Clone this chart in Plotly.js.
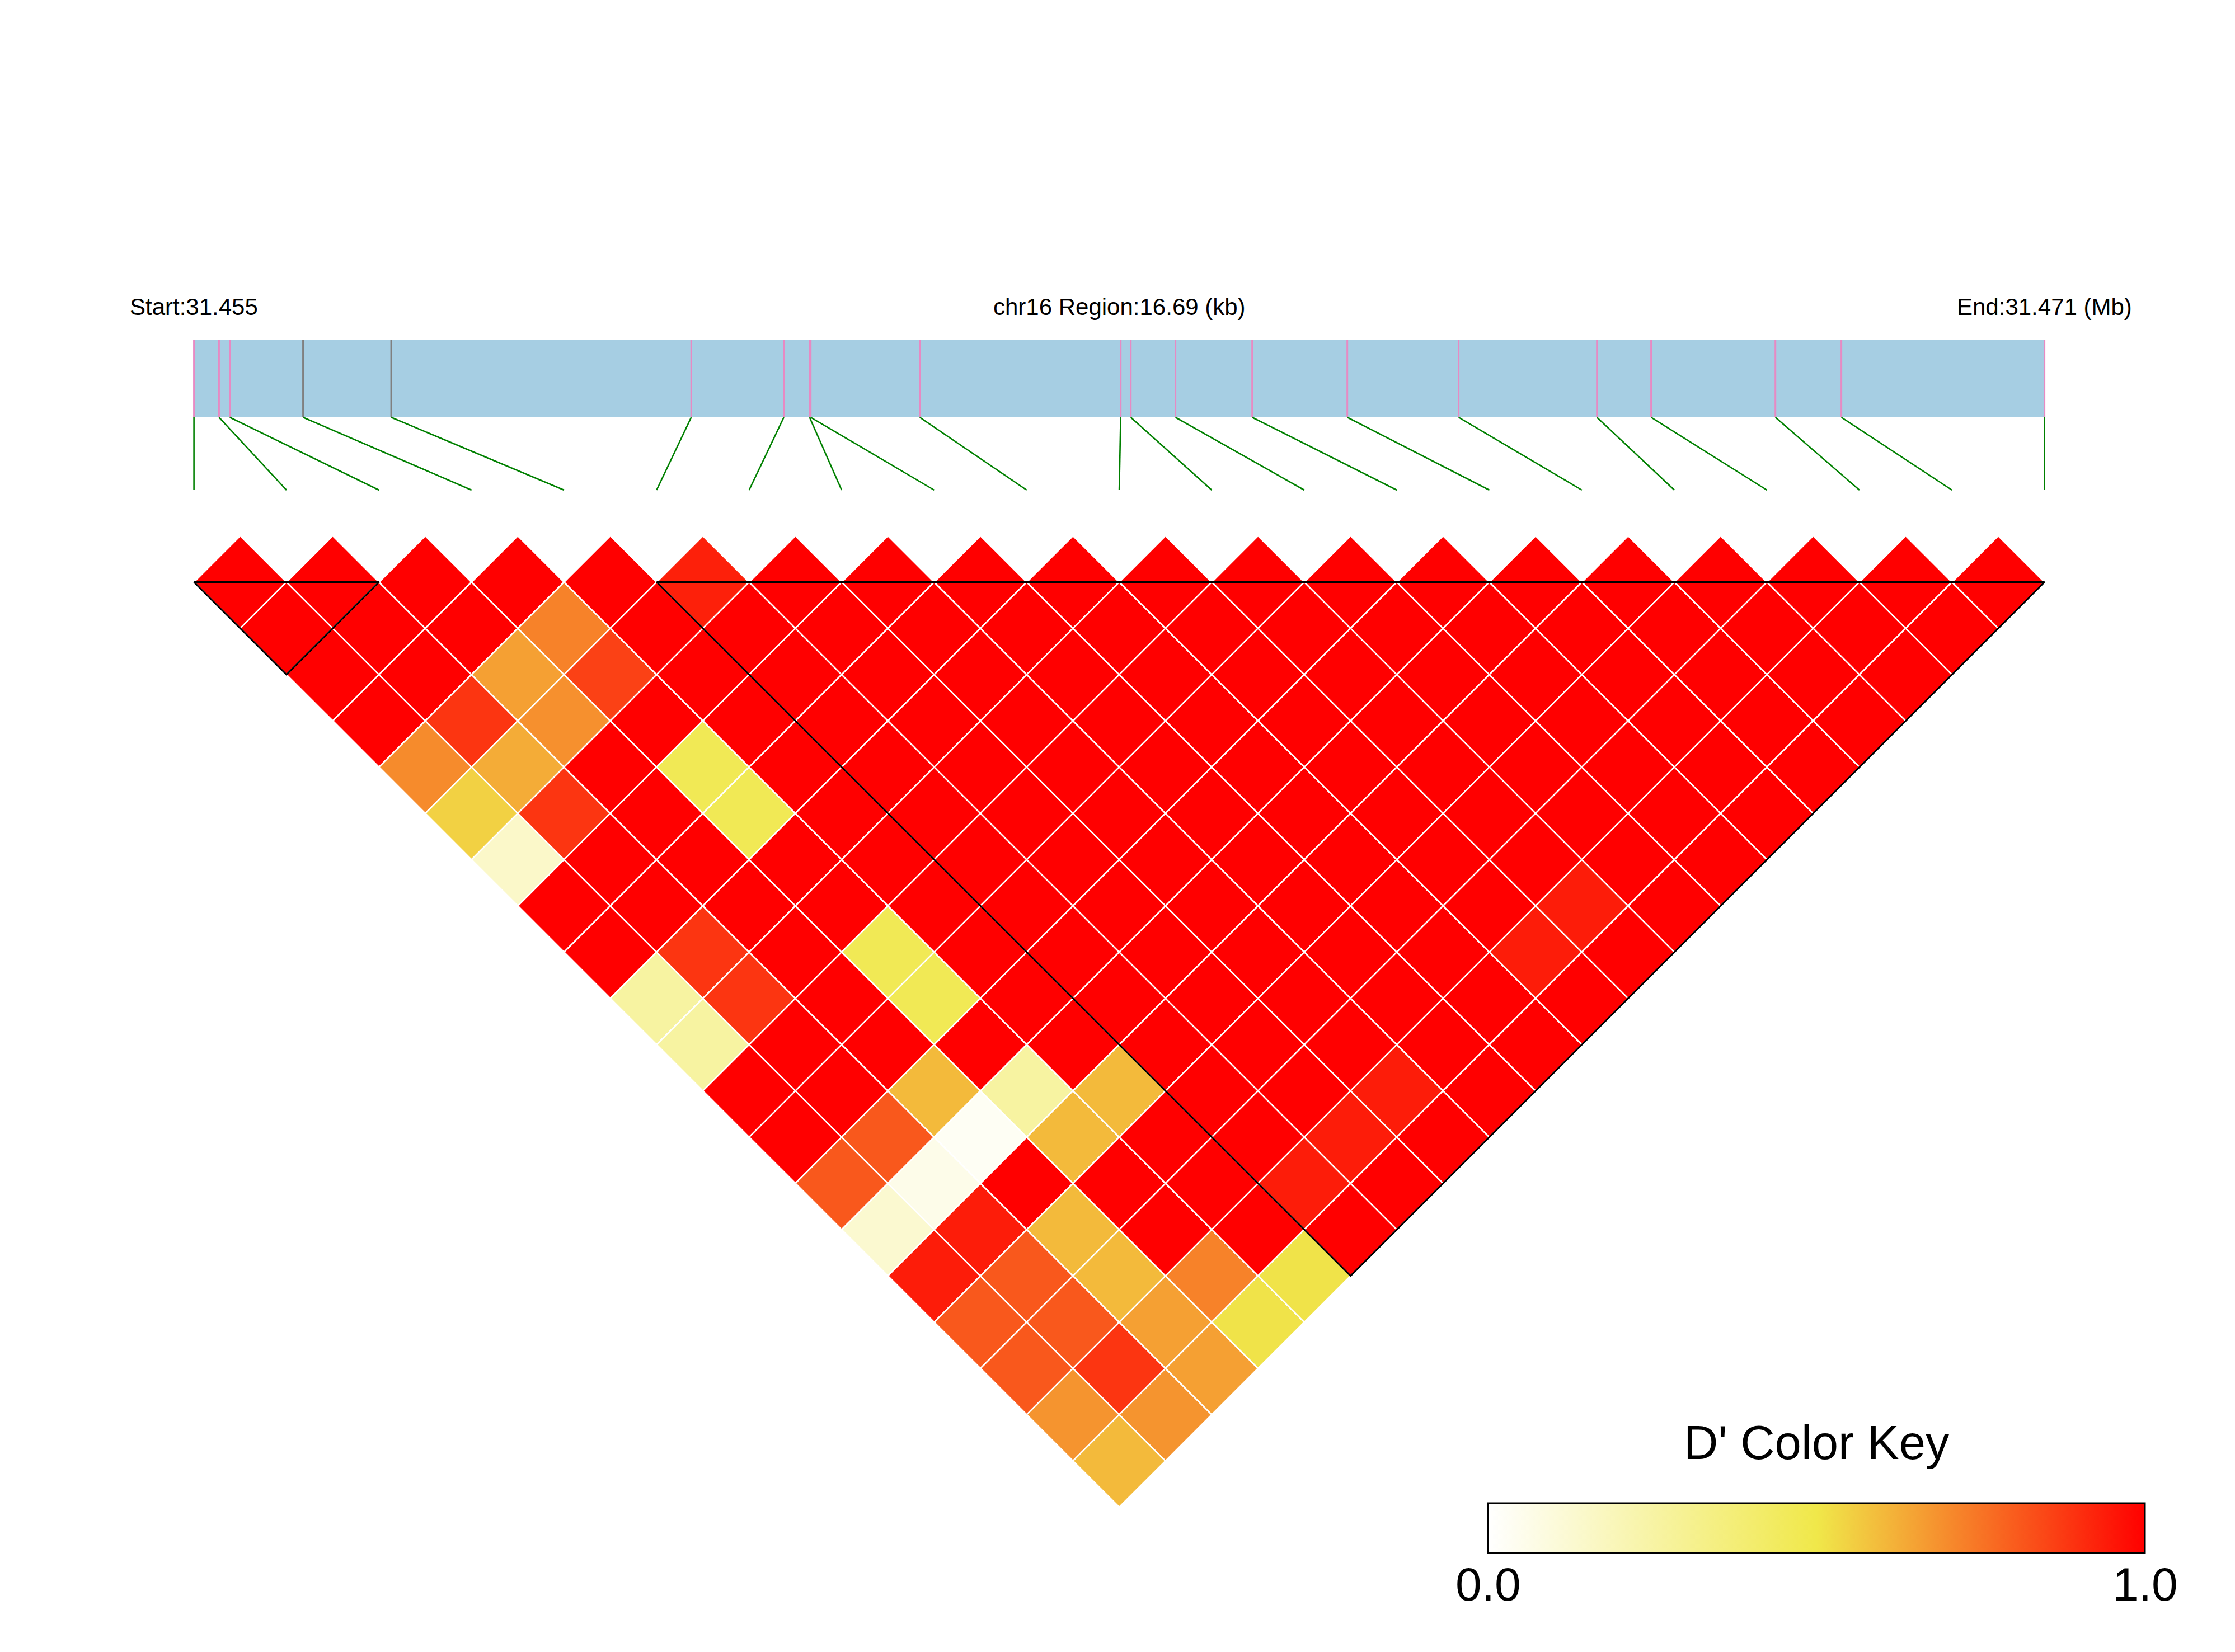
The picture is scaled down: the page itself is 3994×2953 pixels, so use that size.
<!DOCTYPE html>
<html>
<head>
<meta charset="utf-8">
<script src="https://cdn.plot.ly/plotly-3.0.1.min.js"></script>
<style>
html, body { margin: 0; padding: 0; background: #ffffff; }
#chart { width: 3994px; height: 2953px; }
</style>
</head>
<body>
<div id="chart"></div>
<script>
// ---------------- DATA ----------------
const chromName = "chr16";
// physical positions of the 21 SNPs (bp)
const snpPosBp = [31454720, 31454946, 31455043, 31455704, 31456499, 31459205, 31460040,
  31460272, 31460282, 31461266, 31463078, 31463169, 31463572, 31464264, 31465122,
  31466126, 31467373, 31467862, 31468983, 31469578, 31471410];
// SNPs whose mark on the gene bar is grey instead of pink
const greyMarkSnps = [3, 4];
// pairwise D' : row i holds pairs (i, i+1) ... (i, 20)
const dprimeRows = [
  [1, 1, 1, 1, 0.70, 0.55, 0.15, 1, 1, 0.26, 0.26, 1, 1, 0.81, 0.13, 0.94, 0.81, 0.81, 0.68, 0.60],
  [1, 1, 1, 0.885, 0.63, 0.885, 1, 1, 0.885, 0.885, 1, 1, 0.81, 0.06, 0.94, 0.81, 0.81, 0.885, 0.68],
  [1, 1, 0.655, 0.69, 1, 1, 1, 1, 1, 1, 1, 0.60, 0.03, 1, 0.60, 0.60, 0.655, 0.655],
  [1, 0.72, 0.86, 1, 0.47, 0.47, 1, 1, 0.47, 0.47, 1, 0.26, 0.60, 1, 1, 0.72, 0.51],
  [1, 1, 1, 1, 1, 1, 1, 1, 1, 1, 1, 0.60, 1, 1, 1, 0.51],
  [0.93, 1, 1, 1, 1, 1, 1, 1, 1, 1, 1, 1, 1, 0.94, 1],
  [1, 1, 1, 1, 1, 1, 1, 1, 1, 1, 1, 1, 0.94, 1],
  [1, 1, 1, 1, 1, 1, 1, 1, 1, 1, 1, 0.94, 1],
  [1, 1, 1, 1, 1, 1, 1, 1, 1, 1, 1, 1],
  [1, 1, 1, 1, 1, 1, 1, 1, 1, 1, 1],
  [1, 1, 1, 1, 1, 1, 1, 1, 0.94, 1],
  [1, 1, 1, 1, 1, 1, 1, 0.94, 1],
  [1, 1, 1, 1, 1, 1, 1, 1],
  [1, 1, 1, 1, 1, 1, 1],
  [1, 1, 1, 1, 1, 1],
  [1, 1, 1, 1, 1],
  [1, 1, 1, 1],
  [1, 1, 1],
  [1, 1],
  [1]
];
// haplotype blocks (first SNP index, last SNP index)
const blocks = [[0, 2], [5, 20]];
const keyTickVals = [0, 1];
const keyTickText = ["0.0", "1.0"];
const keyTitle = "D' Color Key";

// ---------------- STYLE / GEOMETRY ----------------
const W = 3994, H = 2953;
const X0 = 346.6, STEP = 165.35, TOPY = 1040.5;
const HALF = STEP / 2;
const FONT = "Liberation Sans, Arial, Helvetica, sans-serif";
const colorscale = [[0, "#FFFFFF"], [0.5, "#F0E84A"], [1, "#FF0000"]];
// colour key box (pixels)
const KEY_L = 2659, KEY_R = 3833, KEY_T = 2687, KEY_B = 2776;

function pxToY(py) { return (TOPY - py) / HALF; }
const nSnp = snpPosBp.length;
const startBp = snpPosBp[0], endBp = snpPosBp[nSnp - 1];
function bpToU(bp) { return (bp - startBp) / (endBp - startBp) * (nSnp - 1); }

function hexToRgb(h) { return [parseInt(h.slice(1, 3), 16), parseInt(h.slice(3, 5), 16), parseInt(h.slice(5, 7), 16)]; }
function colorAt(v) {
  for (let k = 1; k < colorscale.length; k++) {
    const a = colorscale[k - 1], b = colorscale[k];
    if (v <= b[0] || k === colorscale.length - 1) {
      const t = Math.max(0, Math.min(1, (v - a[0]) / (b[0] - a[0])));
      const ca = hexToRgb(a[1]), cb = hexToRgb(b[1]);
      const c = ca.map((x, idx) => Math.round(x + (cb[idx] - x) * t));
      return "rgb(" + c.join(",") + ")";
    }
  }
}

const barTop = pxToY(607), barBot = pxToY(746), linkEnd = pxToY(876), labelY = pxToY(548);
const traces = [];

// gene region bar
traces.push({
  type: "scatter", mode: "lines", x: [startBp, endBp, endBp, startBp, startBp].map(bpToU),
  y: [barBot, barBot, barTop, barTop, barBot], fill: "toself", fillcolor: "#A6CEE3",
  line: { width: 0, color: "#A6CEE3" }, hoverinfo: "skip", showlegend: false
});

// SNP marks on the bar
const pinkX = [], pinkY = [], greyX = [], greyY = [];
snpPosBp.forEach((bp, k) => {
  const u = bpToU(bp);
  const grey = greyMarkSnps.includes(k);
  (grey ? greyX : pinkX).push(u, u, null);
  (grey ? greyY : pinkY).push(barBot, barTop, null);
});
traces.push({ type: "scatter", mode: "lines", x: pinkX, y: pinkY, line: { color: "#E78AC3", width: 3 }, hoverinfo: "skip", showlegend: false });
traces.push({ type: "scatter", mode: "lines", x: greyX, y: greyY, line: { color: "#808080", width: 3 }, hoverinfo: "skip", showlegend: false });

// green connectors
const gX = [], gY = [];
snpPosBp.forEach((bp, k) => { gX.push(bpToU(bp), k, null); gY.push(barBot, linkEnd, null); });
traces.push({ type: "scatter", mode: "lines", x: gX, y: gY, line: { color: "#008000", width: 2.6 }, hoverinfo: "skip", showlegend: false });

// LD cells
const cx = [], cy = [], cv = [];
dprimeRows.forEach((row, i) => {
  row.forEach((v, idx) => {
    const j = i + idx + 1;
    const mx = (i + j) / 2, my = -(j - i - 1);
    cx.push(mx); cy.push(my); cv.push(v);
    traces.push({
      type: "scatter", mode: "lines",
      x: [mx - 0.5, mx, mx + 0.5, mx, mx - 0.5],
      y: [my, my + 1, my, my - 1, my],
      fill: "toself", fillcolor: colorAt(v),
      line: { color: "#FFFFFF", width: 2.6 },
      hoverinfo: "skip", showlegend: false
    });
  });
});

// block outlines
const bX = [], bY = [];
blocks.forEach(([a, b]) => {
  bX.push(a, (a + b) / 2, b, a, null);
  bY.push(0, -(b - a), 0, 0, null);
});
traces.push({ type: "scatter", mode: "lines", x: bX, y: bY, line: { color: "#000000", width: 3 }, hoverinfo: "skip", showlegend: false });

// colour key carrier
traces.push({
  type: "scatter", mode: "markers", x: cx, y: cy, hoverinfo: "skip", showlegend: false,
  marker: {
    size: 1, opacity: 0, color: cv, cmin: 0, cmax: 1, colorscale: colorscale, showscale: true,
    colorbar: {
      orientation: "h", x: (KEY_L + KEY_R) / 2 / W, xanchor: "center", y: 1 - KEY_T / H, yanchor: "top",
      len: KEY_R - KEY_L, lenmode: "pixels", thickness: KEY_B - KEY_T, thicknessmode: "pixels",
      outlinecolor: "#000000", outlinewidth: 3, xpad: 0, ypad: 0, borderwidth: 0,
      tickvals: keyTickVals, showticklabels: false, ticks: ""
    }
  }
});

const startLabel = "Start:" + (startBp / 1e6).toFixed(3);
const endLabel = "End:" + (endBp / 1e6).toFixed(3) + " (Mb)";
const midLabel = chromName + " Region:" + ((endBp - startBp) / 1000).toFixed(2) + " (kb)";

const annotations = [
  { x: 0, y: labelY, xref: "x", yref: "y", text: startLabel, showarrow: false, xanchor: "center", yanchor: "middle", font: { size: 42, color: "#000", family: FONT } },
  { x: (nSnp - 1) / 2, y: labelY, xref: "x", yref: "y", text: midLabel, showarrow: false, xanchor: "center", yanchor: "middle", font: { size: 42, color: "#000", family: FONT } },
  { x: nSnp - 1, y: labelY, xref: "x", yref: "y", text: endLabel, showarrow: false, xanchor: "center", yanchor: "middle", font: { size: 42, color: "#000", family: FONT } },
  { x: (KEY_L + KEY_R) / 2 / W, y: 1 - 2578 / H, xref: "paper", yref: "paper", text: keyTitle, showarrow: false, xanchor: "center", yanchor: "middle", font: { size: 85, color: "#000", family: FONT } }
];
// colour key tick labels, placed along the key by value
keyTickVals.forEach((v, k) => {
  annotations.push({
    x: (KEY_L + v * (KEY_R - KEY_L)) / W, y: 1 - 2832 / H, xref: "paper", yref: "paper",
    text: keyTickText[k], showarrow: false, xanchor: "center", yanchor: "middle",
    font: { size: 84, color: "#000", family: FONT }
  });
});

const layout = {
  width: W, height: H, autosize: false,
  margin: { l: 0, r: 0, t: 0, b: 0, pad: 0 },
  paper_bgcolor: "#FFFFFF", plot_bgcolor: "#FFFFFF",
  showlegend: false, hovermode: false,
  xaxis: { range: [-X0 / STEP, (W - X0) / STEP], visible: false, showgrid: false, zeroline: false, fixedrange: true },
  yaxis: { range: [-(H - TOPY) / HALF, TOPY / HALF], visible: false, showgrid: false, zeroline: false, fixedrange: true },
  annotations: annotations
};

Plotly.newPlot("chart", traces, layout, { staticPlot: true, displayModeBar: false });
</script>
</body>
</html>
